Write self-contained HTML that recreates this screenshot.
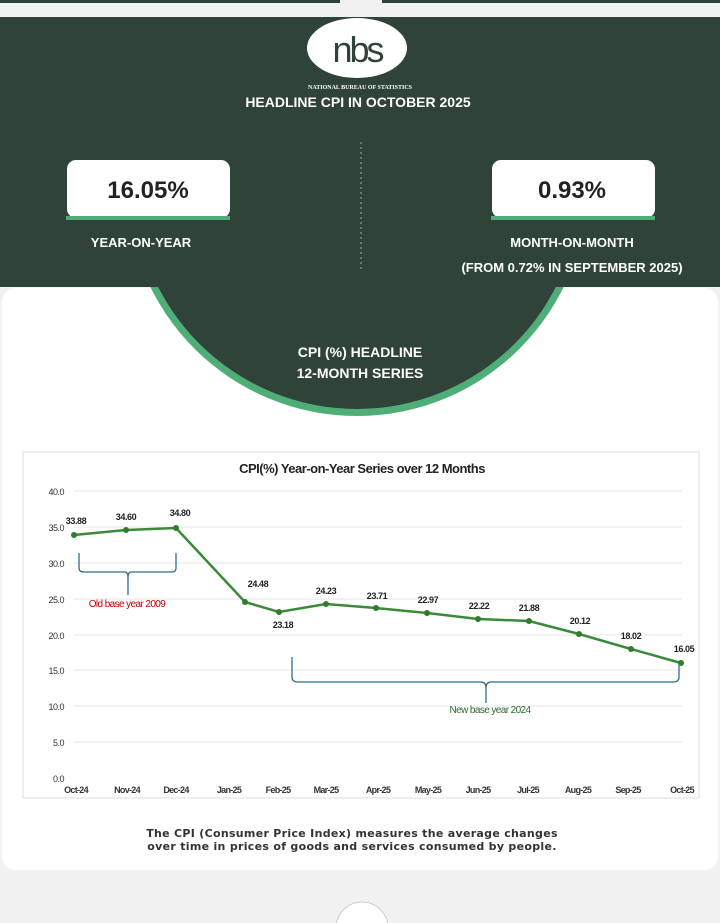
<!DOCTYPE html>
<html><head><meta charset="utf-8"><style>
html,body{margin:0;padding:0;width:720px;height:923px;overflow:hidden;background:#f1f1f1;font-family:"Liberation Sans",sans-serif}
</style></head><body>
<svg width="720" height="923" viewBox="0 0 720 923" xmlns="http://www.w3.org/2000/svg" font-family="Liberation Sans, sans-serif">
<defs><clipPath id="below"><rect x="0" y="287" width="720" height="300"/></clipPath></defs>
<rect x="0" y="0" width="720" height="923" fill="#f1f1f1"/>
<rect x="0" y="0" width="340" height="3" fill="#2f4239"/>
<rect x="382" y="0" width="338" height="3" fill="#2f4239"/>
<rect x="0" y="17" width="720" height="270" fill="#2f4339"/>
<rect x="2" y="288" width="716" height="582" rx="14" fill="#ffffff"/>
<!-- semicircle -->
<g clip-path="url(#below)">
<circle cx="357" cy="186" r="230" fill="#4fae78"/>
<circle cx="357" cy="186" r="223" fill="#2f4339"/>
</g>
<!-- logo -->
<ellipse cx="357" cy="48" rx="50" ry="30" fill="#ffffff"/>
<text x="357" y="62" font-size="36" text-anchor="middle" fill="#2f4339" letter-spacing="-3">nbs</text>
<text x="360" y="89" font-size="6" text-anchor="middle" fill="#fff" font-family="Liberation Serif, serif" font-weight="bold">NATIONAL BUREAU OF STATISTICS</text>
<text x="358" y="107" font-size="14" text-anchor="middle" fill="#fff" font-weight="bold">HEADLINE CPI IN OCTOBER 2025</text>
<line x1="361" y1="142" x2="361" y2="272" stroke="#aaa" stroke-dasharray="2,3" stroke-width="1"/>
<rect x="67" y="160" width="163" height="58" rx="9" fill="#fff"/>
<rect x="66" y="216" width="164" height="4" fill="#4fae78"/>
<text x="148" y="198" font-size="24" text-anchor="middle" fill="#222" font-weight="bold">16.05%</text>
<text x="141" y="247" font-size="13" text-anchor="middle" fill="#fff" font-weight="bold">YEAR-ON-YEAR</text>
<rect x="492" y="160" width="163" height="58" rx="9" fill="#fff"/>
<rect x="491" y="216" width="164" height="4" fill="#4fae78"/>
<text x="572" y="198" font-size="24" text-anchor="middle" fill="#222" font-weight="bold">0.93%</text>
<text x="572" y="247" font-size="13" text-anchor="middle" fill="#fff" font-weight="bold">MONTH-ON-MONTH</text>
<text x="572" y="272" font-size="13" text-anchor="middle" fill="#fff" font-weight="bold">(FROM 0.72% IN SEPTEMBER 2025)</text>
<text x="360" y="357" font-size="14" text-anchor="middle" fill="#fff" font-weight="bold">CPI (%)  HEADLINE</text>
<text x="360" y="378" font-size="14" text-anchor="middle" fill="#fff" font-weight="bold">12-MONTH SERIES</text>
<!-- chart -->
<rect x="23" y="452" width="676" height="346" fill="#fff" stroke="#ddd"/>
<text x="362" y="473" font-size="13" text-anchor="middle" fill="#222" font-weight="bold" letter-spacing="-0.5">CPI(%) Year-on-Year Series over 12 Months</text>
<g stroke="#e6e6e6" stroke-width="1">
<line x1="74" x2="682" y1="491" y2="491"/><line x1="74" x2="682" y1="527" y2="527"/><line x1="74" x2="682" y1="563" y2="563"/><line x1="74" x2="682" y1="599" y2="599"/><line x1="74" x2="682" y1="635" y2="635"/><line x1="74" x2="682" y1="670" y2="670"/><line x1="74" x2="682" y1="706" y2="706"/><line x1="74" x2="682" y1="742" y2="742"/>
</g>
<g font-size="9" fill="#333" text-anchor="end" letter-spacing="-0.5">
<text x="64" y="495">40.0</text><text x="64" y="531">35.0</text><text x="64" y="567">30.0</text><text x="64" y="603">25.0</text><text x="64" y="639">20.0</text><text x="64" y="674">15.0</text><text x="64" y="710">10.0</text><text x="64" y="746">5.0</text><text x="64" y="782">0.0</text>
</g>
<g font-size="9" fill="#333" text-anchor="middle" font-weight="bold" letter-spacing="-0.7">
<text x="76" y="793">Oct-24</text><text x="127" y="793">Nov-24</text><text x="176" y="793">Dec-24</text><text x="229" y="793">Jan-25</text><text x="278" y="793">Feb-25</text><text x="326" y="793">Mar-25</text><text x="378" y="793">Apr-25</text><text x="428" y="793">May-25</text><text x="478" y="793">Jun-25</text><text x="528" y="793">Jul-25</text><text x="578" y="793">Aug-25</text><text x="628" y="793">Sep-25</text><text x="682" y="793">Oct-25</text>
</g>
<polyline fill="none" stroke="#3b8a3b" stroke-width="2.5" points="74,535 126,530 176,528 245,602 279,612 326,604 376,608 427,613 478,619 529,621 579,634 631,649 681,663"/>
<g fill="#2d7d2d">
<circle cx="74" cy="535" r="3"/><circle cx="126" cy="530" r="3"/><circle cx="176" cy="528" r="3"/><circle cx="245" cy="602" r="3"/><circle cx="279" cy="612" r="3"/><circle cx="326" cy="604" r="3"/><circle cx="376" cy="608" r="3"/><circle cx="427" cy="613" r="3"/><circle cx="478" cy="619" r="3"/><circle cx="529" cy="621" r="3"/><circle cx="579" cy="634" r="3"/><circle cx="631" cy="649" r="3"/><circle cx="681" cy="663" r="3"/>
</g>
<g font-size="9" fill="#222" text-anchor="middle" font-weight="bold" letter-spacing="-0.4">
<text x="76" y="524">33.88</text><text x="126" y="520">34.60</text><text x="180" y="516">34.80</text><text x="258" y="587">24.48</text><text x="283" y="628">23.18</text><text x="326" y="594">24.23</text><text x="377" y="599">23.71</text><text x="428" y="603">22.97</text><text x="479" y="609">22.22</text><text x="529" y="611">21.88</text><text x="580" y="624">20.12</text><text x="631" y="639">18.02</text><text x="684" y="652">16.05</text>
</g>
<path d="M79 553 V568 Q79 572 84 572 H125 Q128 572 128 578 V595 V578 Q128 572 131 572 H172 Q176 572 176 568 V553" fill="none" stroke="#2f6d8a" stroke-width="1.3"/>
<text x="127" y="607" font-size="10" fill="#c00000" text-anchor="middle" letter-spacing="-0.6">Old base year 2009</text>
<path d="M292 657 V677 Q292 682 298 682 H481 Q486 682 486 688 V703 V688 Q486 682 491 682 H673 Q679 682 679 677 V665" fill="none" stroke="#2f6d8a" stroke-width="1.3"/>
<text x="490" y="713" font-size="10" fill="#2d6a2d" text-anchor="middle" letter-spacing="-0.6">New base year 2024</text>
<text x="352" y="837" font-size="11" fill="#333" text-anchor="middle" font-weight="bold" font-family="DejaVu Sans, sans-serif" letter-spacing="0.3">The CPI (Consumer Price Index) measures the average changes</text>
<text x="352" y="850" font-size="11" fill="#333" text-anchor="middle" font-weight="bold" font-family="DejaVu Sans, sans-serif" letter-spacing="0.3">over time in prices of goods and services consumed by people.</text>
<circle cx="362" cy="928" r="26" fill="#fff" stroke="#ccc"/>
</svg>
</body></html>
